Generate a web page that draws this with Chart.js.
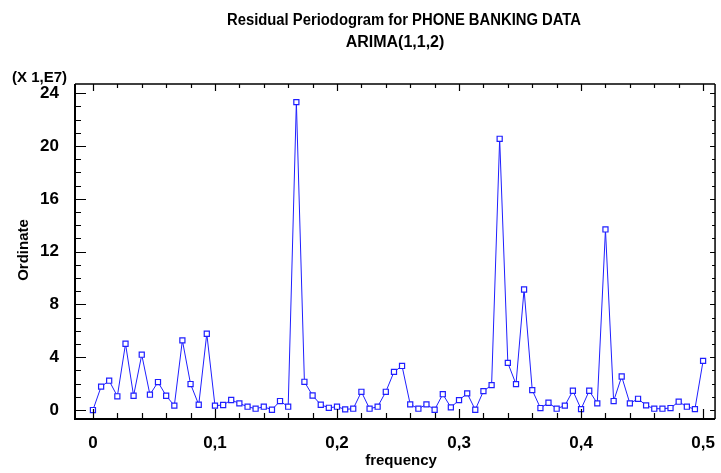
<!DOCTYPE html>
<html>
<head>
<meta charset="utf-8">
<script src="https://cdn.jsdelivr.net/npm/chart.js@4/dist/chart.umd.min.js"></script>
<style>
  html, body { margin: 0; padding: 0; background: #fff; }
  canvas { display: block; }
</style>
</head>
<body>
<canvas id="c" width="721" height="473"></canvas>
<script>
// Harmonic frequencies of the residual periodogram
const frequency = [
  0, 0.0067, 0.0133, 0.02, 0.0267, 0.0333, 0.04, 0.0467, 0.0533, 0.06,
  0.0667, 0.0733, 0.08, 0.0867, 0.0933, 0.1, 0.1067, 0.1133, 0.12, 0.1267,
  0.1333, 0.14, 0.1467, 0.1533, 0.16, 0.1667, 0.1733, 0.18, 0.1867, 0.1933,
  0.2, 0.2067, 0.2133, 0.22, 0.2267, 0.2333, 0.24, 0.2467, 0.2533, 0.26,
  0.2667, 0.2733, 0.28, 0.2867, 0.2933, 0.3, 0.3067, 0.3133, 0.32, 0.3267,
  0.3333, 0.34, 0.3467, 0.3533, 0.36, 0.3667, 0.3733, 0.38, 0.3867, 0.3933,
  0.4, 0.4067, 0.4133, 0.42, 0.4267, 0.4333, 0.44, 0.4467, 0.4533, 0.46,
  0.4667, 0.4733, 0.48, 0.4867, 0.4933, 0.5
];
// Periodogram ordinates, in units of 1E7
const ordinate = [
  0, 1.77, 2.22, 1.04, 5.02, 1.08, 4.19, 1.16, 2.12, 1.08,
  0.33, 5.28, 1.97, 0.40, 5.78, 0.33, 0.38, 0.76, 0.50, 0.25,
  0.10, 0.25, 0.02, 0.68, 0.25, 23.33, 2.14, 1.10, 0.40, 0.17,
  0.25, 0.05, 0.10, 1.38, 0.10, 0.25, 1.38, 2.89, 3.34, 0.43,
  0.10, 0.43, 0.02, 1.20, 0.20, 0.75, 1.26, 0.02, 1.43, 1.89,
  20.55, 3.57, 1.96, 9.13, 1.51, 0.15, 0.55, 0.10, 0.33, 1.46,
  0.07, 1.46, 0.50, 13.68, 0.68, 2.54, 0.50, 0.85, 0.35, 0.10,
  0.10, 0.15, 0.63, 0.25, 0.07, 3.72
];
const xTicks = [0, 0.1, 0.2, 0.3, 0.4, 0.5];
const yTicks = [0, 4, 8, 12, 16, 20, 24];
const xMinorStep = 0.02;
const yMinorStep = 1;

const titleLines = ['Residual Periodogram for PHONE BANKING DATA', 'ARIMA(1,1,2)'];
const scaleNote = '(X 1,E7)';
const xTitle = 'frequency';
const yTitle = 'Ordinate';

const FONT = '"Liberation Sans", Arial, sans-serif';

// Frame, inward ticks and the text around the plot
const framePlugin = {
  id: 'frame',
  afterDraw(chart) {
    const { ctx, chartArea: a, scales } = chart;
    const xs = scales.x, ys = scales.y;
    ctx.save();
    ctx.strokeStyle = '#000';
    // frame
    ctx.lineWidth = 1.5;
    ctx.beginPath();
    ctx.moveTo(a.left, a.top); ctx.lineTo(a.right, a.top);
    ctx.moveTo(a.right, a.top); ctx.lineTo(a.right, a.bottom);
    ctx.stroke();
    ctx.lineWidth = 2;
    ctx.beginPath();
    ctx.moveTo(a.left, a.top); ctx.lineTo(a.left, a.bottom);
    ctx.lineTo(a.right, a.bottom);
    ctx.stroke();

    ctx.lineWidth = 1.2;
    ctx.beginPath();
    // x ticks (bottom and top)
    for (let i = 0; i <= 25; i++) {
      const v = +(i * xMinorStep).toFixed(4);
      const px = Math.round(xs.getPixelForValue(v)) + 0.5;
      const major = i % 5 === 0;
      ctx.moveTo(px, a.bottom); ctx.lineTo(px, a.bottom - (major ? 10 : 6));
      ctx.moveTo(px, a.top); ctx.lineTo(px, a.top + (major ? 7 : 4));
    }
    // y ticks (left and right)
    for (let i = 0; i <= 24; i++) {
      const v = i * yMinorStep;
      const py = Math.round(ys.getPixelForValue(v)) + 0.5;
      const major = i % 4 === 0;
      ctx.moveTo(a.left, py); ctx.lineTo(a.left + (major ? 11 : 6), py);
      ctx.moveTo(a.right, py); ctx.lineTo(a.right - (major ? 5 : 3), py);
    }
    ctx.stroke();

    ctx.fillStyle = '#000';
    ctx.textAlign = 'center';
    ctx.textBaseline = 'alphabetic';
    ctx.font = 'bold 16px ' + FONT;
    ctx.fillText(titleLines[0], 404, 25, 354);
    ctx.fillText(titleLines[1], 395, 47);

    ctx.font = 'bold 15px ' + FONT;
    ctx.textAlign = 'left';
    ctx.fillText(scaleNote, 12, 82);

    ctx.textAlign = 'center';
    ctx.fillText(xTitle, 401, 465);

    ctx.translate(28, 250);
    ctx.rotate(-Math.PI / 2);
    ctx.fillText(yTitle, 0, 0);
    ctx.restore();
  }
};

new Chart(document.getElementById('c'), {
  type: 'line',
  data: {
    labels: frequency,
    datasets: [{
      data: frequency.map((f, i) => ({ x: f, y: ordinate[i] })),
      borderColor: '#1f1fff',
      borderWidth: 1,
      backgroundColor: '#ffffff',
      pointStyle: 'rect',
      pointRadius: 3.6,
      pointBorderWidth: 1.2,
      pointBorderColor: '#1f1fff',
      pointBackgroundColor: '#ffffff',
      tension: 0
    }]
  },
  options: {
    responsive: false,
    animation: false,
    devicePixelRatio: 1,
    layout: { padding: { top: 84, right: 2, left: 0, bottom: 0 } },
    plugins: { legend: { display: false }, tooltip: { enabled: false }, title: { display: false } },
    scales: {
      x: {
        type: 'linear',
        min: -0.0147,
        max: 0.5098,
        grid: { display: false },
        border: { display: false },
        afterBuildTicks: s => { s.ticks = xTicks.map(v => ({ value: v })); },
        afterFit: s => { s.height = 54; },
        ticks: {
          padding: 6,
          color: '#000',
          font: { family: FONT, size: 17, weight: 'bold' },
          callback: v => String(v).replace('.', ',')
        }
      },
      y: {
        type: 'linear',
        min: -0.68,
        max: 24.7,
        grid: { display: false },
        border: { display: false },
        afterBuildTicks: s => { s.ticks = yTicks.map(v => ({ value: v })); },
        afterFit: s => { s.width = 75; },
        ticks: {
          padding: 8,
          color: '#000',
          font: { family: FONT, size: 17, weight: 'bold' }
        }
      }
    }
  },
  plugins: [framePlugin]
});
</script>
</body>
</html>
